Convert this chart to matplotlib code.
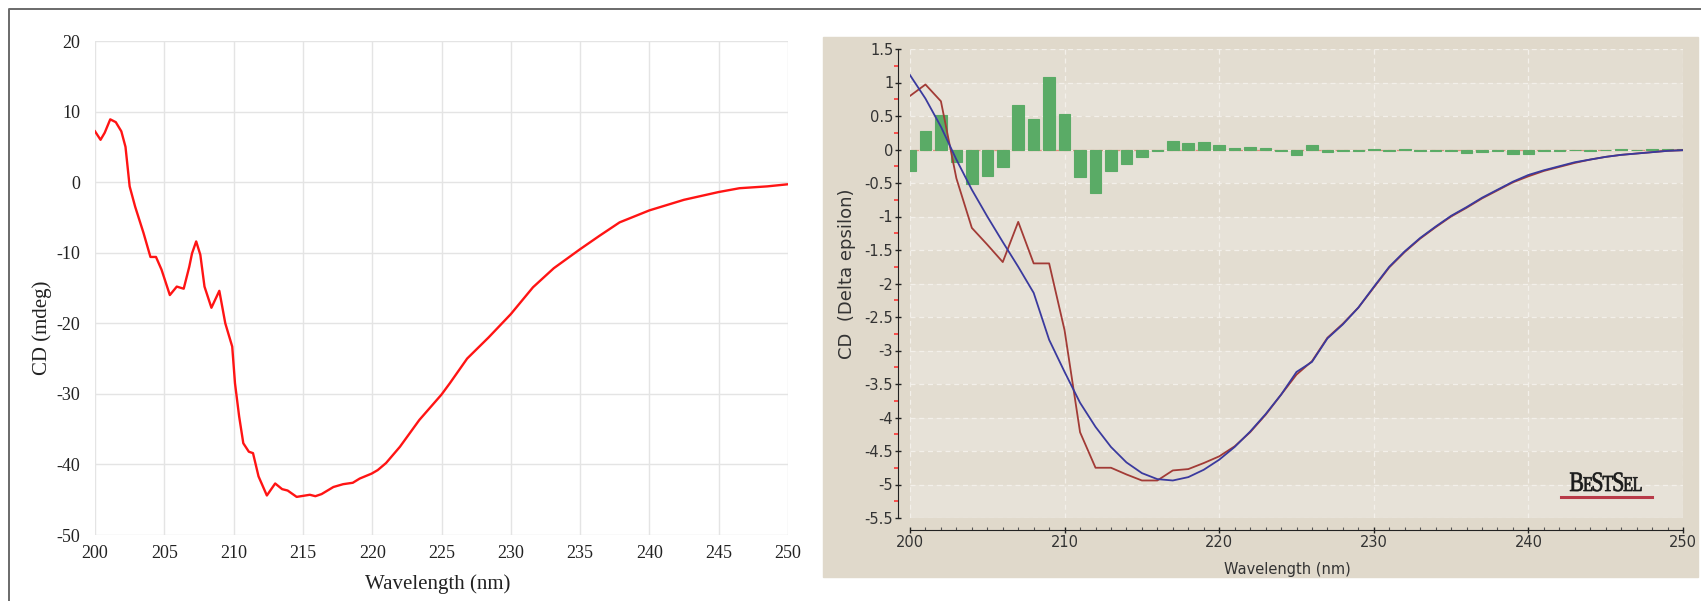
import matplotlib
matplotlib.use("Agg")
import matplotlib.pyplot as plt
from matplotlib.patches import Rectangle, PathPatch
from matplotlib.lines import Line2D
from matplotlib.textpath import TextPath
from matplotlib.font_manager import FontProperties
from matplotlib.transforms import Affine2D
from matplotlib.ticker import MultipleLocator

plt.rcParams['axes.unicode_minus'] = False

# left panel: measured CD spectrum (mdeg)
cd_wl = [200.0, 200.4, 200.7, 201.1, 201.5, 201.9, 202.2, 202.5, 202.9, 203.5,
         204.0, 204.4, 204.8, 205.4, 205.9, 206.4, 206.8, 207.0, 207.3, 207.6,
         207.9, 208.4, 208.97, 209.4, 209.9, 210.1, 210.4, 210.7, 211.1, 211.4,
         211.8, 212.4, 213.0, 213.5, 213.9, 214.55, 215.5, 215.9, 216.35, 217.2,
         217.9, 218.6, 219.1, 219.96, 220.4, 221.0, 222.0, 223.4, 225.0, 225.6,
         226.85, 228.4, 230.0, 231.6, 233.1, 235.0, 236.4, 237.85, 240.0, 242.5,
         245.0, 246.5, 248.5, 250.0]
cd_mdeg = [7.2, 6.0, 7.0, 8.9, 8.5, 7.2, 5.0, -0.6, -3.5, -7.2,
           -10.6, -10.6, -12.4, -16.0, -14.8, -15.1, -12.0, -10.1, -8.4, -10.3,
           -14.8, -17.8, -15.4, -20.0, -23.3, -28.5, -33.2, -37.0, -38.2, -38.4,
           -41.7, -44.4, -42.7, -43.5, -43.7, -44.6, -44.3, -44.5, -44.2, -43.2,
           -42.8, -42.6, -42.0, -41.3, -40.8, -39.8, -37.5, -33.7, -30.1, -28.5,
           -25.0, -22.0, -18.7, -14.9, -12.2, -9.5, -7.6, -5.7, -4.0, -2.5,
           -1.4, -0.86, -0.6, -0.3]

# right panel: BeStSel fit (delta epsilon), one value per nm 200..250
wl_nm = list(range(200, 251))
exp_de = [0.80, 0.97, 0.72, -0.43, -1.17, -1.42, -1.68, -1.08, -1.70, -1.70,
          -2.70, -4.22, -4.75, -4.75, -4.85, -4.94, -4.94, -4.79, -4.77, -4.68,
          -4.58, -4.43, -4.22, -3.96, -3.66, -3.36, -3.16, -2.81, -2.60, -2.36,
          -2.06, -1.76, -1.53, -1.33, -1.16, -1.00, -0.87, -0.73, -0.61, -0.49,
          -0.40, -0.32, -0.26, -0.20, -0.15, -0.11, -0.08, -0.06, -0.04, -0.02,
          -0.01]
fit_de = [1.11, 0.76, 0.34, -0.15, -0.60, -1.00, -1.38, -1.75, -2.14, -2.84,
          -3.32, -3.78, -4.14, -4.44, -4.67, -4.83, -4.92, -4.94, -4.89, -4.78,
          -4.63, -4.44, -4.21, -3.95, -3.66, -3.32, -3.17, -2.82, -2.61, -2.36,
          -2.05, -1.75, -1.52, -1.32, -1.15, -0.99, -0.86, -0.72, -0.60, -0.48,
          -0.38, -0.31, -0.25, -0.19, -0.15, -0.11, -0.08, -0.06, -0.04, -0.02,
          -0.01]
resid_de = [-0.32, 0.27, 0.52, -0.18, -0.52, -0.39, -0.26, 0.67, 0.46, 1.08,
            0.53, -0.41, -0.65, -0.32, -0.21, -0.11, -0.02, 0.12, 0.10, 0.11,
            0.07, 0.02, 0.03, 0.02, -0.02, -0.08, 0.06, -0.03, -0.02, -0.02,
            0.01, -0.02, 0.01, -0.02, -0.02, -0.02, -0.05, -0.04, -0.02, -0.06,
            -0.06, -0.02, -0.02, -0.01, -0.02, -0.01, 0.01, -0.01, 0.01, 0.01,
            0.01]

W, H = 1701, 601
fig = plt.figure(figsize=(W / 100, H / 100), dpi=100)
fig.patch.set_facecolor('white')


def box(l, t, r, b):
    return [l / W, 1 - b / H, (r - l) / W, (b - t) / H]


# outer frame (top + left)
fig.add_artist(Line2D([8.5 / W, 8.5 / W, 1.0], [0.0, 1 - 8.5 / H, 1 - 8.5 / H],
                      transform=fig.transFigure, color='#6a6a6a', lw=1.4))

# ---------------- left panel ----------------
serif = 'Liberation Serif'
ax1 = fig.add_axes(box(95, 41, 788, 535))
ax1.plot(cd_wl, cd_mdeg, color='#ff1414', lw=1.7, zorder=3)
ax1.set_xlim(200, 250)
ax1.set_ylim(-50, 20)
ax1.set_xticks(range(200, 251, 5))
ax1.set_yticks(range(-50, 21, 10))
ax1.grid(True, color='#e4e4e4', lw=1.0)
for s in ax1.spines.values():
    s.set_visible(False)
ax1.tick_params(length=0, labelsize=13, labelcolor='#222222')
ax1.tick_params(axis='y', pad=10.8)
ax1.tick_params(axis='x', pad=7.5)
for lab in ax1.get_xticklabels() + ax1.get_yticklabels():
    lab.set_family(serif)
ax1.set_xlabel('Wavelength (nm)', family=serif, fontsize=15, color='#222222')
ax1.set_ylabel('CD (mdeg)', family=serif, fontsize=15, color='#222222')
ax1.xaxis.set_label_coords(0.494, -0.079)
ax1.yaxis.set_label_coords(-0.062, 0.42)

# ---------------- right panel ----------------
fig.add_artist(Rectangle((823 / W, 1 - 577 / H), 875 / W, 540 / H,
                         transform=fig.transFigure, color='#e0d9cb', zorder=0))
ax2 = fig.add_axes(box(910, 49, 1683, 518))
ax2.set_facecolor('none')
ax2.set_xlim(200, 250)
ax2.set_ylim(-5.5, 1.5)

band_edges = [-5.5 + 0.5 * i for i in range(15)]
for i in range(14):
    c = '#e7e2d8' if i % 2 == 0 else '#e3ddd1'
    ax2.axhspan(band_edges[i], band_edges[i + 1], color=c, lw=0, zorder=0)

ax2.xaxis.set_major_locator(MultipleLocator(10))
ax2.xaxis.set_minor_locator(MultipleLocator(1))
ax2.yaxis.set_major_locator(MultipleLocator(0.5))
ax2.yaxis.set_minor_locator(MultipleLocator(0.25))
ax2.grid(True, which='major', color='#f3f0ea', lw=0.9, ls=(0, (4, 3)), zorder=1)

ax2.axhline(0, color='#e0907e', lw=0.9, zorder=1.5)
ax2.bar(wl_nm, resid_de, width=0.75, color='#5aab66', edgecolor='#5aab66',
        lw=0.8, zorder=2)
ax2.plot(wl_nm, exp_de, color='#a23b36', lw=1.3, zorder=3)
ax2.plot(wl_nm, fit_de, color='#3a3a9e', lw=1.3, zorder=4)

for side in ('top', 'right'):
    ax2.spines[side].set_visible(False)
ax2.spines['left'].set_position(('outward', 8.6))
ax2.spines['bottom'].set_position(('outward', 8.6))
ax2.spines['left'].set_bounds(-5.5, 1.5)
ax2.spines['bottom'].set_bounds(200, 250)
ax2.spines['left'].set_color('#222222')
ax2.spines['bottom'].set_color('#222222')

ax2.tick_params(axis='y', which='major', direction='inout', length=5, width=1,
                color='#222222', labelsize=10.5, labelcolor='#333333', pad=1)
ax2.tick_params(axis='y', which='minor', direction='out', length=3, width=1.1,
                color='#ff2a2a')
ax2.tick_params(axis='x', which='major', direction='inout', length=5, width=1,
                color='#222222', labelsize=10.5, labelcolor='#333333', pad=1)
ax2.tick_params(axis='x', which='minor', direction='in', length=2, width=0.8,
                color='#555555')
ax2.yaxis.set_major_formatter(lambda v, p: ('%g' % v))
ax2.xaxis.set_major_formatter(lambda v, p: ('%d' % v))

ax2.set_xlabel('Wavelength (nm)', fontsize=10.5, color='#333333')
ax2.set_ylabel('CD  (Delta epsilon)', fontsize=13, color='#333333')
ax2.xaxis.set_label_coords(0.488, -0.094)
ax2.yaxis.set_label_coords(-0.07, 0.52)

# BeStSel logo, letters drawn as compressed paths in pixel space
fp = FontProperties(family=serif)
logo = [('B', 28), ('E', 21), ('S', 28), ('T', 23), ('S', 28), ('E', 21), ('L', 21)]
x0, base = 1570.0, H - 491.0
for ch, sz in logo:
    tp = TextPath((0, 0), ch, size=sz, prop=fp)
    ext = tp.get_extents()
    tr = Affine2D().translate(-ext.x0, 0).scale(0.78, 1.0).translate(x0, base)
    fig.add_artist(PathPatch(tp, transform=tr, facecolor='#1a1a1a',
                             edgecolor='#1a1a1a', lw=0.5))
    x0 += ext.width * 0.78 + 0.6
fig.add_artist(Line2D([1561 / W, 1652 / W], [1 - 497 / H, 1 - 497 / H],
                      transform=fig.transFigure, color='#b83a48', lw=2.2))

fig.savefig('out.png', dpi=100, facecolor='white')
